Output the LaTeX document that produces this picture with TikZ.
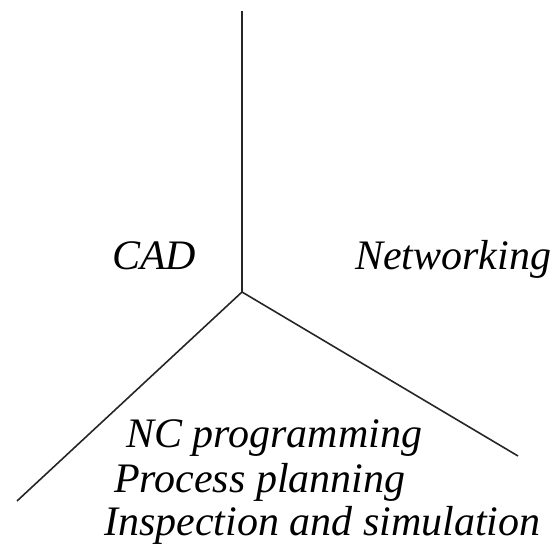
\documentclass[tikz,border=0pt]{standalone}
\usepackage{fontspec}
\setmainfont{Liberation Serif}
\begin{document}
\begin{tikzpicture}[x=1pt,y=1pt,
  axis/.style={line width=1.6pt,draw=black!85},
  lbl/.style={font=\fontsize{42}{50}\selectfont\itshape,inner sep=0pt,anchor=base west}]
\useasboundingbox (0,0) rectangle (560,544);
% three axes meeting at one point
\coordinate (c) at (242,252);
\coordinate (top) at (242,533);
\coordinate (bl) at (17,43);
\coordinate (br) at (518,88);
\draw[axis] (c) -- (top);
\draw[axis] (c) -- (bl);
\draw[axis] (c) -- (br);
% sector labels
\node[lbl] (cad) at (112,274) {CAD};
\node[lbl] (net) at (355,274) {Networking};
\node[lbl] (nc) at (126,96) {NC programming};
\node[lbl] (pp) at (114,52) {Process planning};
\node[lbl] (is) at (104,9) {Inspection and simulation};
\end{tikzpicture}
\end{document}
